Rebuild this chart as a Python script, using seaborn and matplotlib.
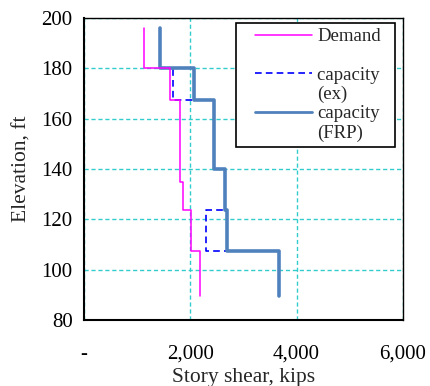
import matplotlib
matplotlib.use("Agg")
import matplotlib.pyplot as plt
from matplotlib.lines import Line2D
from matplotlib.legend_handler import HandlerLine2D
import numpy as np
import seaborn as sns
import pandas as pd

# Story boundaries (elevation, ft) and story shear per segment (kips)
demand_levels = [196, 180, 167.4, 135, 123.7, 107.5, 89.6]
demand_shear = [1128, 1617, 1805, 1867, 2024, 2180]

cap_levels = [196, 180, 167.4, 140, 123.7, 107.5, 89.6]
cap_ex_shear = [1440, 1679, 2444, 2650, 2293, 3665]
cap_frp_shear = [1440, 2068, 2444, 2650, 2688, 3665]

x_ticks = [0, 2000, 4000, 6000]
x_tick_labels = ["-", "2,000", "4,000", "6,000"]
y_ticks = [80, 100, 120, 140, 160, 180, 200]


def step_frame(levels, values):
    xs, ys = [], []
    for i, v in enumerate(values):
        xs += [v, v]
        ys += [levels[i], levels[i + 1]]
    return pd.DataFrame({"shear": xs, "elev": ys})


class RightLine(HandlerLine2D):
    def get_xdata(self, legend, xdescent, ydescent, width, height, fontsize):
        x0 = -xdescent + width * 0.19
        x1 = -xdescent + width
        return np.array([x0, x1]), np.array([x0, x1])


sns.set_theme(style="white")
plt.rcParams["font.family"] = ["Liberation Serif", "DejaVu Serif"]

fig = plt.figure(figsize=(4.3, 3.86), dpi=100)
ax = fig.add_axes([0.195, 0.171, 0.742, 0.782])

d_dem = step_frame(demand_levels, demand_shear)
d_ex = step_frame(cap_levels, cap_ex_shear)
d_frp = step_frame(cap_levels, cap_frp_shear)

sns.lineplot(data=d_ex, x="shear", y="elev", sort=False, estimator=None,
             color="#0000FF", lw=1.2, ls=(0, (4, 2.5)), ax=ax, zorder=3)
sns.lineplot(data=d_frp, x="shear", y="elev", sort=False, estimator=None,
             color="#4F81BD", lw=2.6, ax=ax, zorder=4)
sns.lineplot(data=d_dem, x="shear", y="elev", sort=False, estimator=None,
             color="#FF00FF", lw=1.1, ax=ax, zorder=5)

ax.set_xlim(0, 6000)
ax.set_ylim(80, 200)
ax.set_xticks(x_ticks)
ax.set_xticklabels(x_tick_labels)
ax.set_yticks(y_ticks)
ax.grid(True, color="#33CCCC", ls=(0, (3, 2)), lw=1.0)
ax.set_axisbelow(True)
for s in ax.spines.values():
    s.set_visible(True)
    s.set_color("black")
    s.set_linewidth(1.0)
ax.spines["left"].set_linewidth(1.5)
ax.spines["bottom"].set_linewidth(1.5)
ax.tick_params(axis="both", direction="out", length=5, width=1.2,
               color="black", labelsize=15, labelcolor="black", pad=3)
ax.tick_params(axis="x", pad=13)
ax.set_xlabel("Story shear, kips", fontsize=15.5, labelpad=3)
ax.set_ylabel("Elevation, ft", fontsize=15.5, labelpad=7)

blank = Line2D([], [], color="none")
handles = [
    Line2D([], [], color="#FF00FF", lw=1.1),
    blank,
    Line2D([], [], color="#0000FF", lw=1.2, ls=(0, (4, 2.5))),
    blank,
    Line2D([], [], color="#4F81BD", lw=2.0),
    blank,
]
labels = ["Demand", " ", "capacity\u2002", "(ex)", "capacity", "(FRP)"]
leg = ax.legend(handles, labels, loc="upper right", bbox_to_anchor=(0.975, 0.985),
                fontsize=13.5, frameon=True, fancybox=False, framealpha=1,
                edgecolor="black", handlelength=3.75, handletextpad=0.3,
                labelspacing=0.11, borderpad=0.3, borderaxespad=0,
                handler_map={Line2D: RightLine()})
leg.get_frame().set_linewidth(1.2)

fig.savefig("out.png", dpi=100)
